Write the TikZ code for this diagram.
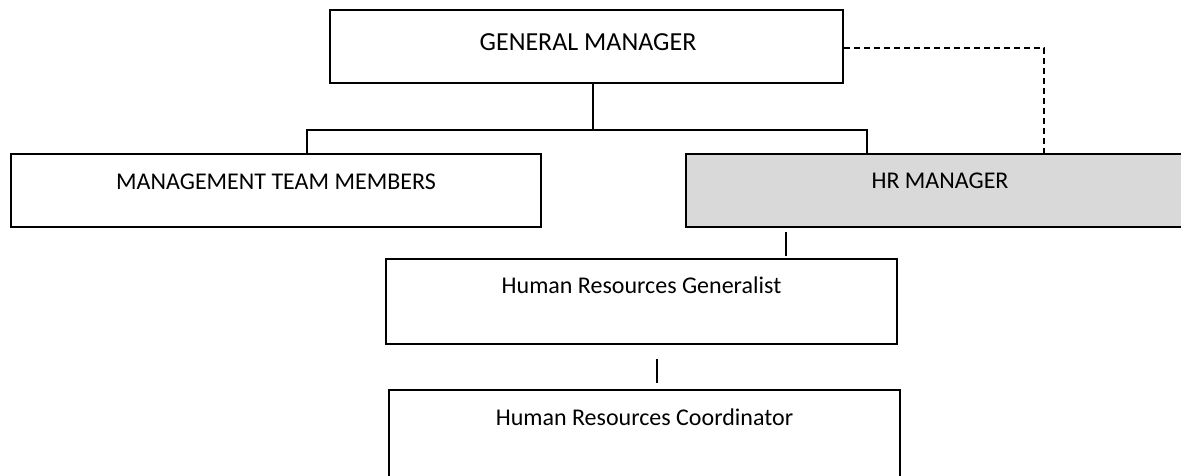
\documentclass[tikz,border=0pt]{standalone}
\usepackage{fontspec}
\setmainfont{Carlito}
\definecolor{boxgrey}{HTML}{D9D9D9}
\begin{document}
\begin{tikzpicture}[x=0.75pt,y=-0.75pt,
  orgbox/.style={draw=black,line width=1.1pt,rectangle,inner sep=0pt,fill=white},
  orgtext/.style={font=\fontsize{18}{21}\selectfont,inner sep=0pt,anchor=center},
  link/.style={draw=black,line width=1.1pt},
  dotted link/.style={draw=black,line width=1.1pt,dash pattern=on 4.5pt off 3pt}]
\clip (0,0) rectangle (1181,475);
\fill[white] (0,0) rectangle (1181,475);

% boxes
\node[orgbox,minimum width=513*0.75pt,minimum height=73*0.75pt] (gm) at (586.5,46.5) {};
\node[orgbox,minimum width=530*0.75pt,minimum height=73*0.75pt] (mtm) at (276,190.5) {};
\node[orgbox,fill=boxgrey,minimum width=508*0.75pt,minimum height=73*0.75pt] (hr) at (940,190.5) {};
\node[orgbox,minimum width=511*0.75pt,minimum height=85*0.75pt] (hrg) at (641.5,301.5) {};
\node[orgbox,minimum width=511*0.75pt,minimum height=110*0.75pt] (hrc) at (644.5,445) {};

% labels near the top of each box
\node[orgtext,font=\fontsize{19.5}{22}\selectfont] (gmt) at (588,42) {GENERAL MANAGER};
\node[orgtext] (mtmt) at (276,182) {MANAGEMENT TEAM MEMBERS};
\node[orgtext] (hrt) at (940,181) {HR MANAGER};
\node[orgtext] (hrgt) at (641.5,285) {Human Resources Generalist};
\node[orgtext] (hrct) at (644.5,417) {Human Resources Coordinator};

% reporting lines
\coordinate (gmdrop) at (593,130);
\coordinate (leftdrop) at (307,130);
\coordinate (rightdrop) at (867,130);
\draw[link] (gm.south -| gmdrop) -- (gmdrop);
\draw[link] (mtm.north -| leftdrop) -- (leftdrop) -- (rightdrop) -- (hr.north -| rightdrop);

% dotted line relationship
\coordinate (dcorner) at (1044,48);
\draw[dotted link] (gm.east |- dcorner) -- (dcorner) -- (hr.north -| dcorner);

% short separators
\coordinate (s1a) at (786,232);
\coordinate (s1b) at (786,256);
\coordinate (s2a) at (657,359);
\coordinate (s2b) at (657,383);
\draw[link] (s1a) -- (s1b);
\draw[link] (s2a) -- (s2b);
\end{tikzpicture}
\end{document}
